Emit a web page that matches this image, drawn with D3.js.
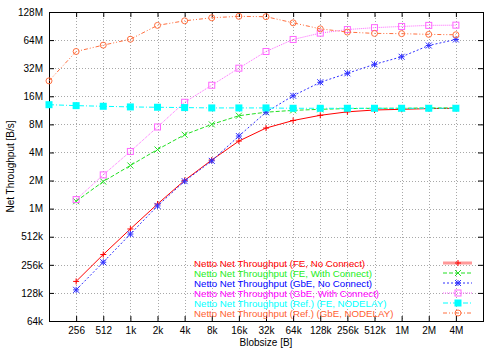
<!DOCTYPE html>
<html>
<head>
<meta charset="utf-8">
<script src="https://cdn.jsdelivr.net/npm/d3@7"></script>
<style>
  body { margin: 0; background: #fff; }
  text { font-family: "Liberation Sans", Arial, sans-serif; }
</style>
</head>
<body>
<script>
    var width = 500,
        height = 350,
        marginLeft = 49,
        marginRight = 17,
        marginTop = 12,
        marginBottom = 29,
        fontSize = "10px";

    // blob sizes in bytes
    var sizesAll = [128, 256, 512, 1024, 2048, 4096, 8192, 16384, 32768, 65536,
                    131072, 262144, 524288, 1048576, 2097152, 4194304];
    var sizes = sizesAll.slice(1);

    var xTickValues = sizes;
    var xTickLabels = ["256", "512", "1k", "2k", "4k", "8k", "16k", "32k", "64k",
                       "128k", "256k", "512k", "1M", "2M", "4M"];
    var yTickLabels = ["64k", "128k", "256k", "512k", "1M", "2M", "4M", "8M",
                       "16M", "32M", "64M", "128M"];

    var K = 1024, M = 1024 * 1024;

    // throughput values in B/s
    var feNoConnect = [170*K, 330*K, 620*K, 1.12*M, 2.01*M, 3.32*M, 5.3*M, 7.3*M,
                       8.8*M, 10.0*M, 10.9*M, 11.4*M, 11.6*M, 11.8*M, 11.9*M];
    var feWithConnect = [1.2*M, 1.95*M, 2.9*M, 4.3*M, 6.2*M, 8.0*M, 9.9*M, 10.8*M,
                         11.3*M, 11.6*M, 11.8*M, 11.9*M, 11.9*M, 12.0*M, 12.0*M];
    var gbeNoConnect = [138*K, 273*K, 547*K, 1.07*M, 1.97*M, 3.25*M, 6.0*M, 10.8*M,
                        16.2*M, 22.6*M, 28.2*M, 35.2*M, 42.4*M, 56*M, 65*M];
    var gbeWithConnect = [1.25*M, 2.3*M, 4.1*M, 7.5*M, 13.8*M, 21*M, 32*M, 48.3*M,
                          65*M, 76*M, 83*M, 87*M, 89.6*M, 92*M, 92.5*M];
    var refFe = [13.0*M, 12.7*M, 12.5*M, 12.3*M, 12.2*M, 12.1*M, 12.0*M, 12.0*M,
                 12.0*M, 11.9*M, 11.9*M, 11.9*M, 11.9*M, 11.9*M, 11.9*M, 11.9*M];
    var refGbe = [23.4*M, 48.3*M, 56.5*M, 65.4*M, 92*M, 103*M, 111*M, 115*M, 114*M,
                  98*M, 84.5*M, 78*M, 75.5*M, 75*M, 73.7*M, 73*M];

    var seriesNames = [
        "Netto Net Throughput (FE, No Connect)",
        "Netto Net Throughput (FE, With Connect)",
        "Netto Net Throughput (GbE, No Connect)",
        "Netto Net Throughput (GbE, With Connect)",
        "Netto Net Throughput (Ref.) (FE, NODELAY)",
        "Netto Net Throughput (Ref.) (GbE, NODELAY)"
    ];

    var series = [
        {name: seriesNames[0], x: sizes, y: feNoConnect, color: "#ff0000", text: "#ff0000", dash: null, mark: "plus"},
        {name: seriesNames[1], x: sizes, y: feWithConnect, color: "#22e022", text: "#22ee22", dash: "4,2", mark: "cross"},
        {name: seriesNames[2], x: sizes, y: gbeNoConnect, color: "#3030ff", text: "#0000ff", dash: "2,2", mark: "star"},
        {name: seriesNames[3], x: sizes, y: gbeWithConnect, color: "#ff66ff", text: "#ff00ff", dash: "1,1", mark: "box"},
        {name: seriesNames[4], x: sizesAll, y: refFe, color: "#00ffff", text: "#00ffff", dash: "5,2,1,2", mark: "fbox"},
        {name: seriesNames[5], x: sizesAll, y: refGbe, color: "#ff7040", text: "#ff6030", dash: "4,2,1,2,1,2", mark: "circle"}
    ];

    var x = d3.scaleLog().base(2)
        .domain([128, 8 * M])
        .range([marginLeft, width - marginRight]);

    var y = d3.scaleLog().base(2)
        .domain([64 * K, 128 * M])
        .range([height - marginBottom, marginTop]);

    var yTickValues = yTickLabels.map(function (d, i) { return 64 * K * Math.pow(2, i); });

    var svg = d3.select("body").append("svg")
        .attr("width", width)
        .attr("height", height);

    // grid
    var grid = svg.append("g")
        .attr("stroke", "#a8a8a8")
        .attr("stroke-width", 1)
        .attr("stroke-dasharray", "1,2");

    grid.selectAll(".gx")
        .data(xTickValues)
        .enter().append("line")
        .attr("x1", function (d) { return Math.round(x(d)) + 0.5; })
        .attr("x2", function (d) { return Math.round(x(d)) + 0.5; })
        .attr("y1", marginTop)
        .attr("y2", height - marginBottom);

    grid.selectAll(".gy")
        .data(yTickValues.slice(1, -1))
        .enter().append("line")
        .attr("y1", function (d) { return Math.round(y(d)) + 0.5; })
        .attr("y2", function (d) { return Math.round(y(d)) + 0.5; })
        .attr("x1", marginLeft)
        .attr("x2", width - marginRight);

    // axes, ticks inward and mirrored
    var fmtX = function (d, i) { return xTickLabels[i]; };
    var fmtY = function (d, i) { return yTickLabels[i]; };

    svg.append("g")
        .attr("transform", "translate(0," + (height - marginBottom) + ")")
        .call(d3.axisBottom(x).tickValues(xTickValues).tickFormat(fmtX).tickSizeInner(-5).tickSizeOuter(0).tickPadding(6));
    svg.append("g")
        .attr("transform", "translate(0," + marginTop + ")")
        .call(d3.axisTop(x).tickValues(xTickValues).tickFormat("").tickSizeInner(-5).tickSizeOuter(0));
    svg.append("g")
        .attr("transform", "translate(" + marginLeft + ",0)")
        .call(d3.axisLeft(y).tickValues(yTickValues).tickFormat(fmtY).tickSizeInner(-5).tickSizeOuter(0).tickPadding(6));
    svg.append("g")
        .attr("transform", "translate(" + (width - marginRight) + ",0)")
        .call(d3.axisRight(y).tickValues(yTickValues).tickFormat("").tickSizeInner(-5).tickSizeOuter(0));

    svg.selectAll(".domain").remove();
    svg.selectAll(".tick line").attr("stroke", "#000");
    svg.selectAll(".tick text")
        .attr("fill", "#000")
        .style("font-size", fontSize);

    svg.append("rect")
        .attr("x", marginLeft + 0.5)
        .attr("y", marginTop + 0.5)
        .attr("width", width - marginLeft - marginRight)
        .attr("height", height - marginTop - marginBottom)
        .attr("fill", "none")
        .attr("stroke", "#000")
        .attr("stroke-width", 1);

    // axis titles
    svg.append("text")
        .attr("x", (marginLeft + width - marginRight) / 2)
        .attr("y", height - 4)
        .attr("text-anchor", "middle")
        .style("font-size", fontSize)
        .text("Blobsize [B]");

    svg.append("text")
        .attr("transform", "translate(14," + ((marginTop + height - marginBottom) / 2) + ") rotate(-90)")
        .attr("text-anchor", "middle")
        .style("font-size", fontSize)
        .text("Net Throughput [B/s]");

    function drawMark(g, kind, color) {
        var s = 3;
        if (kind == "plus" || kind == "star") {
            g.append("path").attr("d", "M" + (-s) + ",0H" + s + "M0," + (-s) + "V" + s)
                .attr("stroke", color).attr("fill", "none");
        }
        if (kind == "cross" || kind == "star") {
            g.append("path").attr("d", "M" + (-s) + "," + (-s) + "L" + s + "," + s + "M" + (-s) + "," + s + "L" + s + "," + (-s))
                .attr("stroke", color).attr("fill", "none");
        }
        if (kind == "box") {
            g.append("rect").attr("x", -s).attr("y", -s).attr("width", 2 * s).attr("height", 2 * s)
                .attr("stroke", color).attr("fill", "none");
        }
        if (kind == "fbox") {
            g.append("rect").attr("x", -s - 0.5).attr("y", -s - 0.5).attr("width", 2 * s + 1).attr("height", 2 * s + 1)
                .attr("fill", color);
        }
        if (kind == "circle") {
            g.append("circle").attr("r", s)
                .attr("stroke", color).attr("fill", "none");
        }
    }

    var line = d3.line()
        .x(function (d) { return x(d[0]); })
        .y(function (d) { return y(d[1]); });

    series.forEach(function (s) {
        var pts = s.x.map(function (v, i) { return [v, s.y[i]]; });
        svg.append("path")
            .datum(pts)
            .attr("d", line)
            .attr("fill", "none")
            .attr("stroke", s.color)
            .attr("stroke-width", 1)
            .attr("stroke-dasharray", s.dash);

        svg.selectAll(null)
            .data(pts)
            .enter().append("g")
            .attr("transform", function (d) { return "translate(" + x(d[0]) + "," + y(d[1]) + ")"; })
            .each(function () { drawMark(d3.select(this), s.mark, s.color); });
    });

    // legend
    var legend = svg.append("g");
    series.forEach(function (s, i) {
        var ly = 263 + i * 10;
        legend.append("text")
            .attr("x", 194)
            .attr("y", ly + 3.5)
            .attr("fill", s.text)
            .style("font-size", "9.7px")
            .text(s.name);
        legend.append("line")
            .attr("x1", 443).attr("x2", 472)
            .attr("y1", ly).attr("y2", ly)
            .attr("stroke", s.color)
            .attr("stroke-width", i == 0 ? 3 : 1)
            .attr("stroke-opacity", i == 0 ? 0.4 : 1)
            .attr("stroke-dasharray", s.dash);
        drawMark(legend.append("g").attr("transform", "translate(458," + ly + ")"), s.mark, s.color);
    });
</script>
</body>
</html>
